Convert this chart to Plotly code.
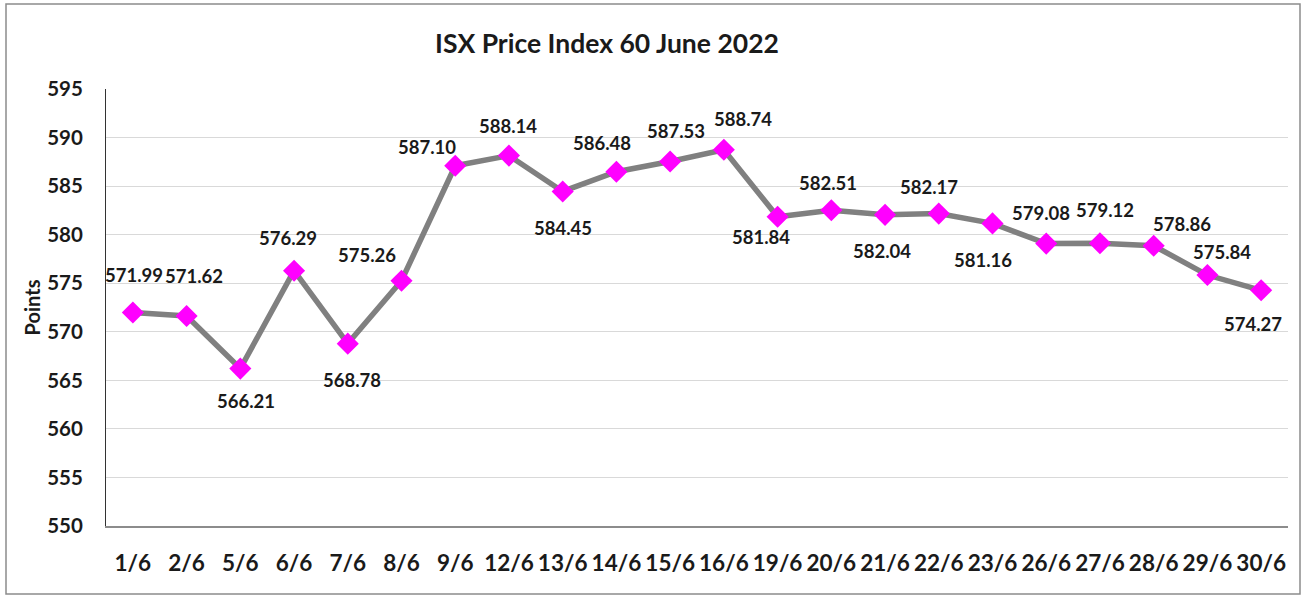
import plotly.graph_objects as go

# ---- data ----
dates = ["1/6", "2/6", "5/6", "6/6", "7/6", "8/6", "9/6", "12/6", "13/6", "14/6", "15/6",
         "16/6", "19/6", "20/6", "21/6", "22/6", "23/6", "26/6", "27/6", "28/6", "29/6", "30/6"]
index_values = [571.99, 571.62, 566.21, 576.29, 568.78, 575.26, 587.10, 588.14, 584.45, 586.48, 587.53,
                588.74, 581.84, 582.51, 582.04, 582.17, 581.16, 579.08, 579.12, 578.86, 575.84, 574.27]
y_ticks = [550, 555, 560, 565, 570, 575, 580, 585, 590, 595]
title_text = "ISX Price Index 60 June 2022"
y_title = "Points"

# ---- label placement (pixel offsets, styling only) ----
label_dx = [1, 7, 6, -6, 4, -35, -28, -1, 0, -14, 6, 19, -17, -3, -3, -10, -10, -5, 5, 28, 15, -8]
label_dy = [-37, -40, 32, -33, 36, -26, -19, -30, 37, -29, -31, -31, 20, -27, 36, -27, 37, -31, -33, -22, -23, 34]

FONT = "Lato"
W, H = 1307, 596
L, R, T, B = 106, 19, 89, 70

fig = go.Figure()
fig.add_trace(go.Scatter(
    x=dates, y=index_values, mode="lines+markers",
    line=dict(color="#808080", width=5.5),
    marker=dict(symbol="diamond", size=17, color="#FF00FF", line=dict(width=0)),
    hoverinfo="x+y", showlegend=False,
))

for d, v, dx, dy in zip(dates, index_values, label_dx, label_dy):
    fig.add_annotation(x=d, y=v, text=f"{v:.2f}", showarrow=False,
                       xshift=dx, yshift=-dy,
                       font=dict(family=FONT, size=18.5, color="#1a1a1a", weight="bold"))

# outer chart border
pw, ph = W - L - R, H - T - B
fig.add_shape(type="rect", xref="paper", yref="paper",
              x0=(6 - L) / pw, x1=(1300 - L) / pw,
              y0=(H - B - 594) / ph, y1=(H - B - 4) / ph,
              line=dict(color="#8c8c8c", width=1.5), fillcolor="rgba(0,0,0,0)", layer="below")

fig.update_layout(
    width=W, height=H,
    margin=dict(l=L, r=R, t=T, b=B, autoexpand=False),
    paper_bgcolor="white", plot_bgcolor="white",
    title=dict(text=title_text, x=607 / W, xanchor="center", xref="container",
               y=1 - 44 / H, yanchor="middle", yref="container",
               font=dict(family=FONT, size=26.5, color="#1a1a1a", weight="bold")),
    xaxis=dict(type="category", showgrid=False, showline=True, linecolor="#8c8c8c", linewidth=1.5,
               ticks="", ticklabelstandoff=16, tickangle=0, automargin=False,
               range=[-0.5, len(dates) - 0.5],
               tickfont=dict(family=FONT, size=22.5, color="#1a1a1a", weight="bold")),
    yaxis=dict(range=[550, 595], tickvals=y_ticks, showgrid=True, gridcolor="#d9d9d9", gridwidth=1,
               showline=True, linecolor="#333333", linewidth=1, zeroline=False,
               ticks="", ticklabelstandoff=18, automargin=False,
               tickfont=dict(family=FONT, size=20.5, color="#1a1a1a", weight="bold"),
               title=dict(text=y_title, standoff=1,
                          font=dict(family=FONT, size=20, color="#1a1a1a", weight="bold"))),
)

fig.write_html("out.html", config={"displayModeBar": False},
               post_script="document.body.style.margin='0';")
